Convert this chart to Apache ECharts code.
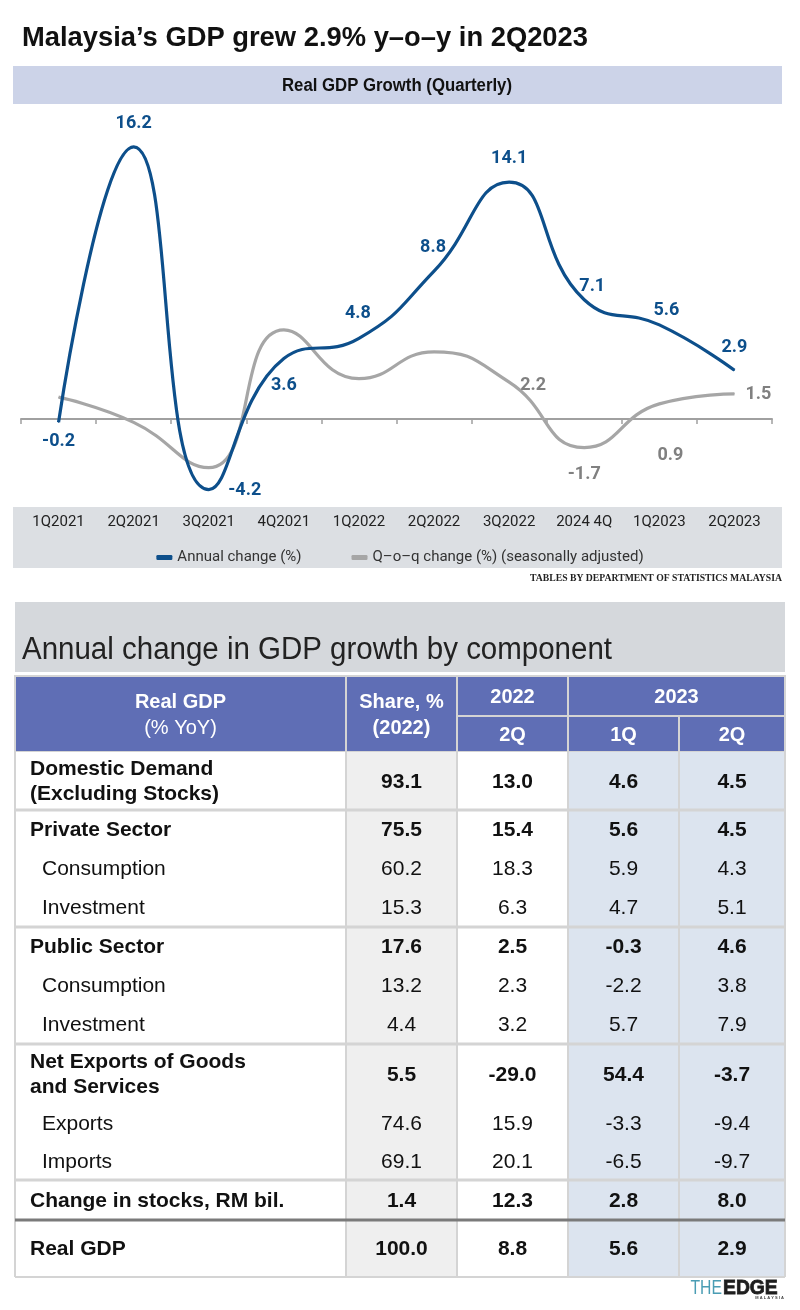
<!DOCTYPE html>
<html><head><meta charset="utf-8">
<script src="https://cdn.jsdelivr.net/npm/echarts@6/dist/echarts.min.js"></script>
<style>html,body{margin:0;padding:0;background:#fff}#main{width:800px;height:1310px}</style>
</head><body><div id="main"></div>
<script>
// ---------- DATA ----------
const quarters = ['1Q2021','2Q2021','3Q2021','4Q2021','1Q2022','2Q2022','3Q2022','2024 4Q','1Q2023','2Q2023'];
const annualChange = [-0.2, 16.2, -4.2, 3.6, 4.8, 8.8, 14.1, 7.1, 5.6, 2.9];
const qoqChange = [1.3, -0.2, -2.9, 5.3, 2.4, 4.0, 2.2, -1.7, 0.9, 1.5];
const seriesNames = ['Annual change (%)', 'Q\u2013o\u2013q change (%) (seasonally adjusted)'];

const tableRowLabels = ['Domestic Demand\n(Excluding Stocks)', 'Private Sector', 'Consumption', 'Investment',
  'Public Sector', 'Consumption', 'Investment', 'Net Exports of Goods\nand Services', 'Exports', 'Imports',
  'Change in stocks, RM bil.', 'Real GDP'];
const shareValues = [93.1, 75.5, 60.2, 15.3, 17.6, 13.2, 4.4, 5.5, 74.6, 69.1, 1.4, 100.0];
const q2_2022 = [13.0, 15.4, 18.3, 6.3, 2.5, 2.3, 3.2, -29.0, 15.9, 20.1, 12.3, 8.8];
const q1_2023 = [4.6, 5.6, 5.9, 4.7, -0.3, -2.2, 5.7, 54.4, -3.3, -6.5, 2.8, 5.6];
const q2_2023 = [4.5, 4.5, 4.3, 5.1, 4.6, 3.8, 7.9, -3.7, -9.4, -9.7, 8.0, 2.9];
const headerLabel = ['Real GDP', '(% YoY)'];
const headerShare = ['Share, %', '(2022)'];
const headerYears = ['2022', '2023'];
const headerQuarters = ['2Q', '1Q', '2Q'];
const titleText = 'Malaysia\u2019s GDP grew 2.9% y\u2013o\u2013y in 2Q2023';
const chartTitleText = 'Real GDP Growth (Quarterly)';
const sourceText = 'TABLES BY DEPARTMENT OF STATISTICS MALAYSIA';
const tableTitleText = 'Annual change in GDP growth by component';

// ---------- STYLE ----------
const SANS = '"Liberation Sans",Arial,Helvetica,sans-serif';
const LBL = 'Roboto,"Liberation Sans",sans-serif';
const SERIF = '"Liberation Serif","DejaVu Serif",serif';
const BLUE = '#0d4f8b', GREY = '#a6a6a6';
const annualLabelOffsets = [[0,19],[0,-23],[36,1],[0,27],[-1,-25],[-1,-24],[0,-24],[8,-13],[7,-14],[0,-23]];
const qoqLabelOffsets = [null,null,null,null,null,null,[24,3],[0,27],[11,52],[24,1]];
const rowBold = [true,true,false,false,true,false,false,true,false,false,true,true];
const rowGroupStart = [false,true,false,false,true,false,false,true,false,false,true,true];
const colWidths = [331, 111, 111, 111, 106];
const rowHeights = [40, 36, 58, 39, 39, 39, 39, 39, 39, 60, 38, 38, 40, 57];
const colFills = ['#ffffff', '#efefef', '#ffffff', '#dce4ef', '#dce4ef'];
const HEAD_FILL = '#5f6eb5';
const LINE_GREY = '#d4d4d4';

const cum = a => a.reduce((acc, v) => { acc.push(acc[acc.length-1] + v); return acc; }, [0]);
const colEdges = cum(colWidths), rowEdges = cum(rowHeights);

const mctx = document.createElement('canvas').getContext('2d');
function fitScale(text, weight, size, family, target) {
  mctx.font = weight + ' ' + size + 'px ' + family;
  return target / mctx.measureText(text).width;
}

// ---------- TABLE CELLS ----------
const cells = [];
cells.push({c0:0,c1:1,r0:0,r1:2,head:true,text:'{b|'+headerLabel[0]+'}\n{r|'+headerLabel[1]+'}'});
cells.push({c0:1,c1:2,r0:0,r1:2,head:true,text:'{b|'+headerShare[0]+'}\n{b|'+headerShare[1]+'}'});
cells.push({c0:2,c1:3,r0:0,r1:1,head:true,text:'{b|'+headerYears[0]+'}'});
cells.push({c0:3,c1:5,r0:0,r1:1,head:true,text:'{b|'+headerYears[1]+'}'});
headerQuarters.forEach((q,i)=>cells.push({c0:2+i,c1:3+i,r0:1,r1:2,head:true,text:'{b|'+q+'}'}));
const valueCols = [shareValues, q2_2022, q1_2023, q2_2023];
tableRowLabels.forEach((lab, i) => {
  const r = i + 2;
  const last = i === tableRowLabels.length-1;
  cells.push({c0:0,c1:1,r0:r,r1:r+1,label:true,bold:rowBold[i],indent:!rowBold[i],text:lab,
    group:rowGroupStart[i], dark:last, last:last});
  valueCols.forEach((arr, k) => {
    cells.push({c0:k+1,c1:k+2,r0:r,r1:r+1,bold:rowBold[i],text:arr[i].toFixed(1),
      group:rowGroupStart[i], dark:last, last:last});
  });
});

function renderCell(params, api) {
  const c = cells[params.dataIndex];
  const p0 = api.coord([colEdges[c.c0], rowEdges[c.r0]]);
  const p1 = api.coord([colEdges[c.c1], rowEdges[c.r1]]);
  const x = p0[0], y = p0[1], w = p1[0]-p0[0], h = p1[1]-p0[1];
  const ch = [];
  if (c.head) {
    ch.push({type:'rect', z2:0, shape:{x,y,width:w,height:h}, style:{fill:HEAD_FILL, stroke:LINE_GREY, lineWidth:2}});
    ch.push({type:'text', z2:10, x:x+w/2, y:y+h/2+1, style:{text:c.text, align:'center', verticalAlign:'middle',
      rich:{b:{fill:'#fff', fontFamily:SANS, fontWeight:'bold', fontSize:20, lineHeight:26, align:'center'},
            r:{fill:'#fff', fontFamily:SANS, fontWeight:'normal', fontSize:20, lineHeight:26, align:'center'}}}});
    return {type:'group', children:ch};
  }
  ch.push({type:'rect', z2:0, shape:{x,y,width:w,height:h}, style:{fill:colFills[c.c0]}});
  ch.push({type:'line', z2:5, shape:{x1:x,y1:y,x2:x,y2:y+h}, style:{stroke:LINE_GREY, lineWidth:2}});
  if (c.c1 === colWidths.length) ch.push({type:'line', z2:5, shape:{x1:x+w,y1:y,x2:x+w,y2:y+h}, style:{stroke:LINE_GREY, lineWidth:2}});
  if (c.group) ch.push({type:'line', z2:6, shape:{x1:x,y1:y,x2:x+w,y2:y}, style:{stroke:c.dark?'#7a7a7a':LINE_GREY, lineWidth:3}});
  if (c.last) ch.push({type:'line', z2:6, shape:{x1:x,y1:y+h,x2:x+w,y2:y+h}, style:{stroke:LINE_GREY, lineWidth:2}});
  const isLabel = !!c.label;
  ch.push({type:'text', z2:10, x: isLabel ? x + (c.indent ? 27 : 15) : x + w/2, y: y + h/2 + 1,
    style:{text:c.text, align: isLabel ? 'left' : 'center', verticalAlign:'middle', fill:'#111',
      fontFamily:SANS, fontWeight:c.bold?'bold':'normal', fontSize:21, lineHeight:25}});
  return {type:'group', children:ch};
}

// ---------- CHART ----------
const chart = echarts.init(document.getElementById('main'), null, {renderer:'canvas'});
const labelBase = (color) => ({show:true, position:'inside', align:'center', verticalAlign:'middle',
  color, fontFamily:LBL, fontWeight:'bold', fontSize:18});

const sTitle = fitScale(titleText, 'bold', 28, SANS, 566);
const sChartTitle = fitScale(chartTitleText, 'bold', 18, SANS, 230);
const sTable = fitScale(tableTitleText, 'normal', 31, SANS, 590);
const sSource = fitScale(sourceText, 'bold', 10, SERIF, 252);

const option = {
  backgroundColor:'#ffffff',
  animation:false,
  graphic:[
    {type:'text', z:10, x:22, y:38, scaleX:sTitle, style:{text:titleText, align:'left', verticalAlign:'middle', fill:'#111', fontFamily:SANS, fontWeight:'bold', fontSize:28}},
    {type:'rect', z:-1, shape:{x:13,y:66,width:769,height:38}, style:{fill:'#ccd3e8'}},
    {type:'text', z:10, x:397, y:86, scaleX:sChartTitle, style:{text:chartTitleText, align:'center', verticalAlign:'middle', fill:'#111', fontFamily:SANS, fontWeight:'bold', fontSize:18}},
    {type:'rect', z:-1, shape:{x:13,y:507,width:769,height:61}, style:{fill:'#dcdfe3'}},
    {type:'text', z:10, x:782, y:578, scaleX:sSource, style:{text:sourceText, align:'right', verticalAlign:'middle', fill:'#222', fontFamily:SERIF, fontWeight:'bold', fontSize:10}},
    {type:'rect', z:-1, shape:{x:15,y:602,width:770,height:70}, style:{fill:'#d5d8dc'}},
    {type:'text', z:10, x:22, y:650, scaleX:sTable, style:{text:tableTitleText, align:'left', verticalAlign:'middle', fill:'#222', fontFamily:SANS, fontWeight:'normal', fontSize:31}},
    {type:'text', z:10, x:722, y:1288, scaleX:0.75, style:{text:'THE', align:'right', verticalAlign:'middle', fill:'#4a9db4', fontFamily:SANS, fontSize:21, fontWeight:'normal'}},
    {type:'text', z:10, x:723, y:1288, scaleX:0.92, style:{text:'EDGE', align:'left', verticalAlign:'middle', fill:'#1e1e1e', fontFamily:SANS, fontSize:21, fontWeight:'bold', stroke:'#1e1e1e', lineWidth:0.8}},
    {type:'text', z:10, x:784, y:1298, style:{text:'M A L A Y S I A', align:'right', verticalAlign:'middle', fill:'#444', fontFamily:SANS, fontSize:4, fontWeight:'bold'}}
  ],
  legend:{
    top:545, left:'center', itemWidth:16, itemHeight:5, itemGap:50, icon:'roundRect',
    textStyle:{fontFamily:LBL, fontSize:15, color:'#333'},
    data:[seriesNames[0], seriesNames[1]]
  },
  grid:[
    {left:21, width:751, top:116.6, height:386.4},
    {left:15, width:colEdges[colEdges.length-1], top:676, height:rowEdges[rowEdges.length-1]}
  ],
  xAxis:[
    {type:'category', gridIndex:0, data:quarters, boundaryGap:true,
      axisLine:{show:true, onZero:true, lineStyle:{color:'#a0a0a0', width:2}},
      axisTick:{show:true, length:5, lineStyle:{color:'#a0a0a0', width:1.5}},
      axisLabel:{show:false}, splitLine:{show:false}},
    {type:'category', gridIndex:0, data:quarters, boundaryGap:true, position:'bottom',
      axisLine:{show:false, onZero:false}, axisTick:{show:false},
      axisLabel:{show:true, interval:0, margin:12, fontFamily:LBL, fontSize:15, color:'#222'}, splitLine:{show:false}},
    {type:'value', gridIndex:1, min:0, max:colEdges[colEdges.length-1], show:false}
  ],
  yAxis:[
    {type:'value', gridIndex:0, min:-5, max:18, show:false},
    {type:'value', gridIndex:1, min:0, max:rowEdges[rowEdges.length-1], inverse:true, show:false}
  ],
  series:[
    {name:seriesNames[1], type:'line', xAxisIndex:0, yAxisIndex:0, smooth:0.5, z:3,
      symbol:'circle', symbolSize:1, itemStyle:{color:GREY}, lineStyle:{color:GREY, width:3.2},
      data: qoqChange.map((v,i)=>({value:v, label: qoqLabelOffsets[i] ? Object.assign(labelBase('#808080'), {offset:qoqLabelOffsets[i]}) : {show:false}}))},
    {name:seriesNames[0], type:'line', xAxisIndex:0, yAxisIndex:0, smooth:0.5, z:4,
      symbol:'circle', symbolSize:1, itemStyle:{color:BLUE}, lineStyle:{color:BLUE, width:3.2},
      data: annualChange.map((v,i)=>({value:v, label:Object.assign(labelBase(BLUE), {offset:annualLabelOffsets[i]})}))},
    {type:'custom', xAxisIndex:2, yAxisIndex:1, clip:false, silent:true,
      data: cells.map(c => [colEdges[c.c0], rowEdges[c.r0]]),
      renderItem: renderCell}
  ]
};
chart.setOption(option);
</script>
</body></html>
